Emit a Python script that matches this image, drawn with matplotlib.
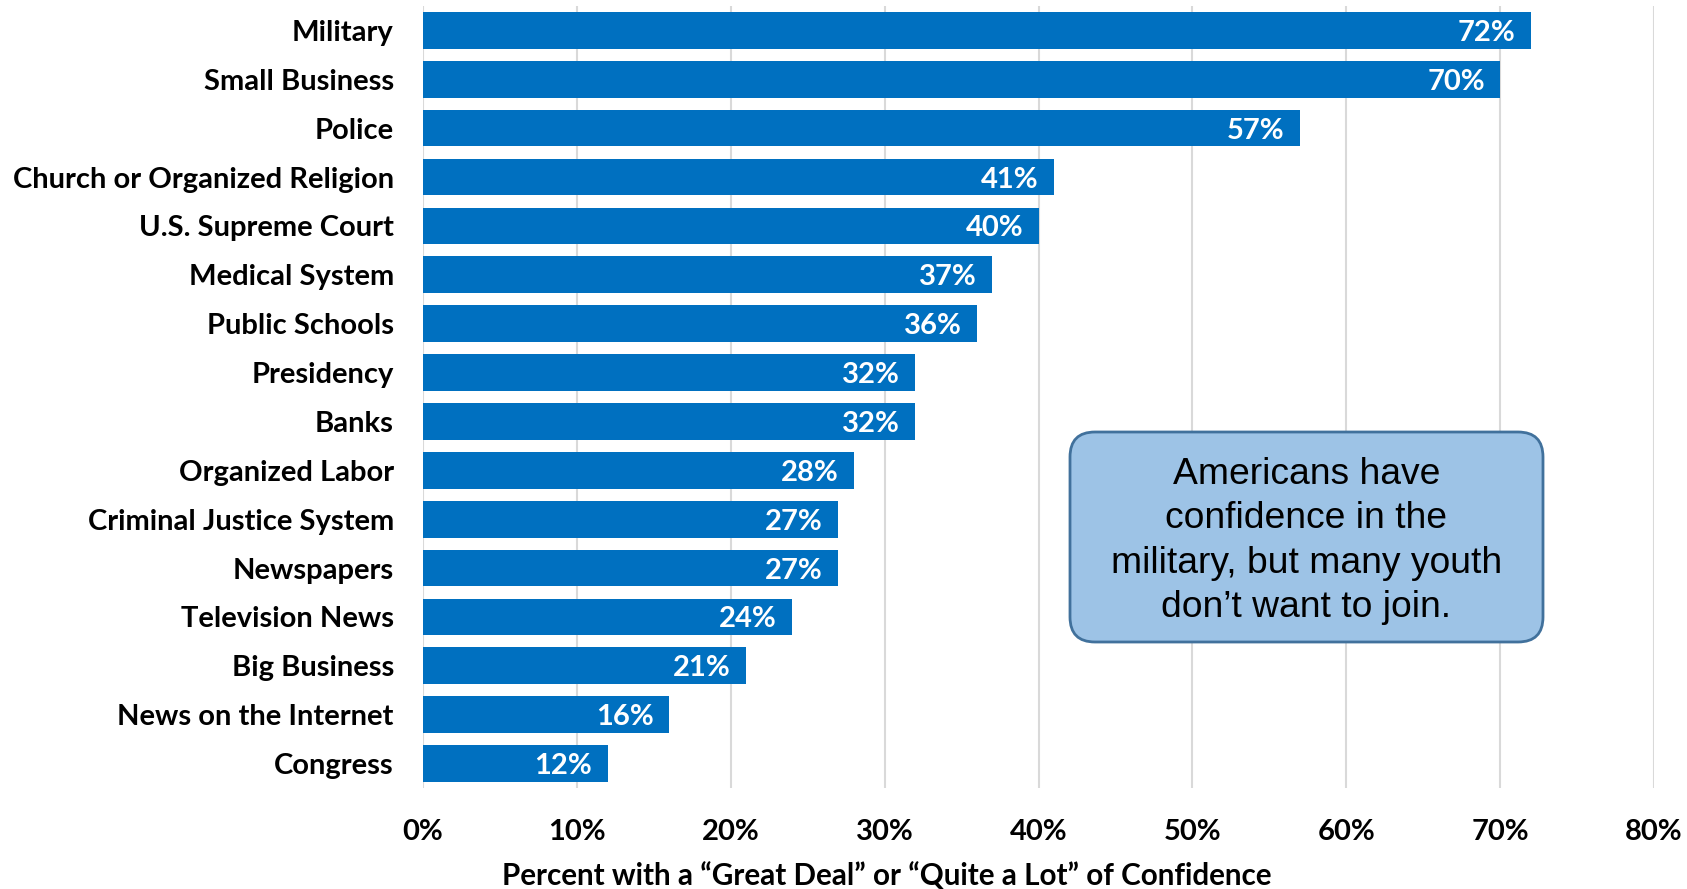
import matplotlib.pyplot as plt
from matplotlib.patches import FancyBboxPatch
from matplotlib.ticker import FuncFormatter

categories = ['Military', 'Small Business', 'Police', 'Church or Organized Religion',
              'U.S. Supreme Court', 'Medical System', 'Public Schools', 'Presidency',
              'Banks', 'Organized Labor', 'Criminal Justice System', 'Newspapers',
              'Television News', 'Big Business', 'News on the Internet', 'Congress']
confidence = [72, 70, 57, 41, 40, 37, 36, 32, 32, 28, 27, 27, 24, 21, 16, 12]
xticks = [0, 10, 20, 30, 40, 50, 60, 70, 80]

bold_font = 'Lato'
box_font = 'Liberation Sans'

fig = plt.figure(figsize=(16.87, 8.89), dpi=100)
ax = fig.add_axes([0.2507, 0.1136, 0.7298, 0.8797])

y = range(len(categories))
ax.barh(y, confidence, height=0.75, color='#0070C0', zorder=2)
for yi, v in zip(y, confidence):
    ax.text(v - 1.0, yi, f'{v}%', ha='right', va='center_baseline', color='white',
            fontsize=21, fontweight='bold', family=bold_font, zorder=3)

ax.set_ylim(len(categories) - 0.5, -0.5)
ax.set_xlim(0, 80)
ax.set_yticks(list(y))
ax.set_yticklabels(categories, fontsize=21, fontweight='bold', family=bold_font)
ax.set_xticks(xticks)
ax.xaxis.set_major_formatter(FuncFormatter(lambda v, p: f'{v:.0f}%'))
for lab in ax.get_xticklabels():
    lab.set_fontsize(21)
    lab.set_fontweight('bold')
    lab.set_family(bold_font)
ax.tick_params(axis='y', length=0, pad=21)
ax.tick_params(axis='x', length=0, pad=22)
ax.grid(axis='x', color='#D9D9D9', linewidth=1.5, zorder=0)
for s in ax.spines.values():
    s.set_visible(False)
ax.set_xlabel('Percent with a \u201cGreat Deal\u201d or \u201cQuite a Lot\u201d of Confidence',
              fontsize=21.3, fontweight='bold', family=bold_font)
ax.xaxis.set_label_coords(0.377, -0.094)

# callout box, drawn in inches so the corners stay round
box = FancyBboxPatch((10.70, 2.47), 4.73, 2.10, boxstyle='round,pad=0,rounding_size=0.25',
                     transform=fig.dpi_scale_trans, facecolor='#9DC3E6',
                     edgecolor='#41719C', linewidth=2, zorder=5)
fig.patches.append(box)
fig.text((10.70 + 4.73 / 2) / 16.87, (2.47 + 2.10 / 2 - 0.04) / 8.89,
         'Americans have\nconfidence in the\nmilitary, but many youth\ndon\u2019t want to join.',
         ha='center', va='center', fontsize=26.8, family=box_font, linespacing=1.345, zorder=6)

fig.savefig('out.png', dpi=100)
